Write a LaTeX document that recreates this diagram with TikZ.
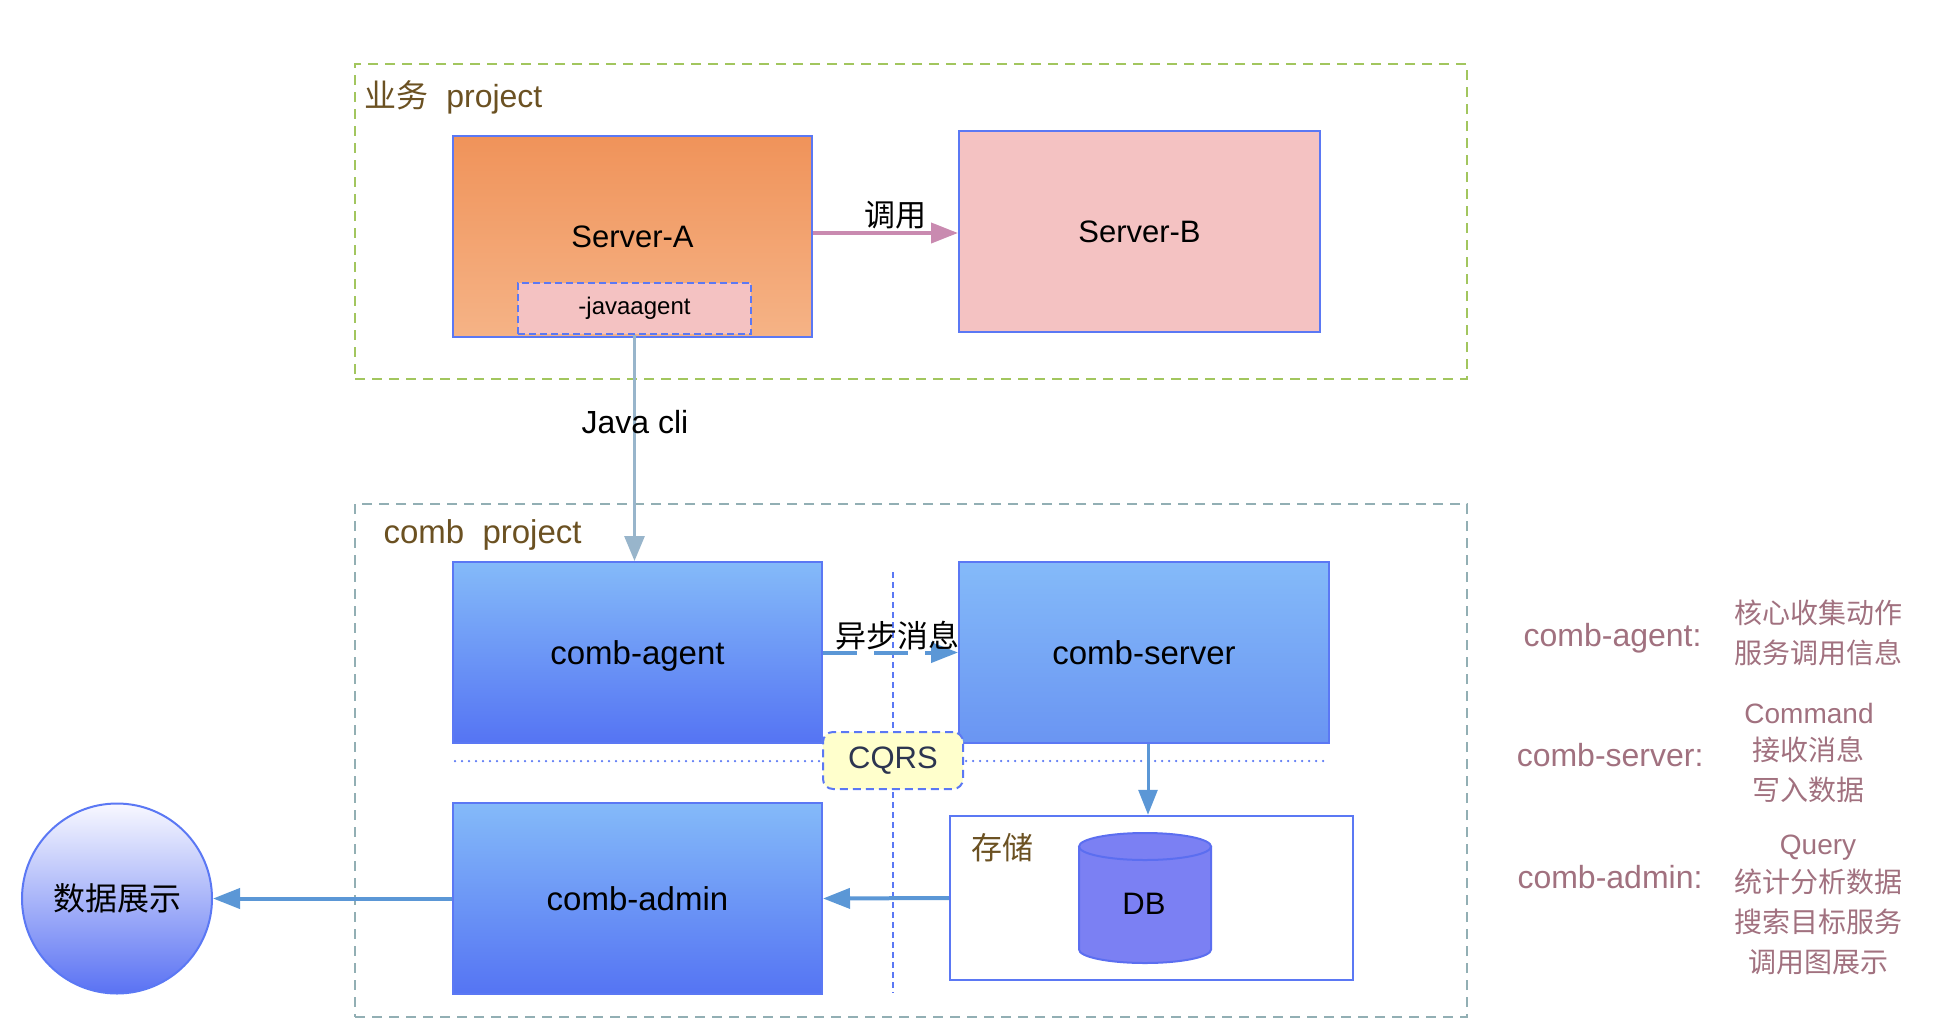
\documentclass[tikz,border=0pt]{standalone}
\usepackage{fontspec}
\setmainfont{Liberation Sans}
\newfontfamily\cjk{Noto Sans CJK SC}
\usetikzlibrary{arrows.meta,calc}
\definecolor{bordblue}{HTML}{5B78F4}
\definecolor{grpgreen}{HTML}{A2C65E}
\definecolor{grpteal}{HTML}{92AFB4}
\definecolor{arrb}{HTML}{5B97D6}
\definecolor{javac}{HTML}{98B5CB}
\definecolor{callc}{HTML}{C98AB0}
\definecolor{brownlbl}{HTML}{6B5122}
\definecolor{mauve}{HTML}{A1717F}
\definecolor{orTop}{HTML}{F0935A}
\definecolor{orBot}{HTML}{F5B386}
\definecolor{pinkfill}{HTML}{F4C2C2}
\definecolor{bTop}{HTML}{84BAF9}
\definecolor{bBot}{HTML}{5574F3}
\definecolor{bBotS}{HTML}{6A95F2}
\definecolor{cqrsfill}{HTML}{FFFFCC}
\definecolor{cqrstext}{HTML}{2C3550}
\definecolor{dbfill}{HTML}{7B80F3}
\definecolor{dbline}{HTML}{5B6EF0}
\definecolor{cTop}{HTML}{F8F8FF}
\definecolor{cBot}{HTML}{5A72F3}
\begin{document}
\begin{tikzpicture}[x=1pt,y=-1pt,
  box/.style={draw=bordblue, line width=2pt, inner sep=0pt},
  lbl/.style={font=\fontsize{31}{37}\selectfont},
  blbl/.style={font=\fontsize{33}{39}\selectfont, text depth=0pt},
  rlbl/.style={font=\fontsize{32}{38}\selectfont, text=mauve},
  rtxt/.style={font=\fontsize{28}{33}\selectfont, text=mauve},
  grp/.style={line width=2pt, dash pattern=on 10pt off 7pt, inner sep=0pt},
  tipA/.style={-{Triangle[length=27pt,width=20pt]}}
]
\useasboundingbox (0,0) rectangle (1954,1020);

% group frames
\node[grp, draw=grpgreen, minimum width=1112pt, minimum height=315pt] (bizgrp) at (911,221.5) {};
\node[grp, draw=grpteal, minimum width=1112pt, minimum height=513pt] (combgrp) at (911,760.5) {};
\node[font=\fontsize{32}{38}\selectfont, text=brownlbl, anchor=west] (bizlbl) at (361,97) {{\cjk 业务}\ \ project};
\node[font=\fontsize{33}{39}\selectfont, text=brownlbl, anchor=west] (comblbl) at (380,535) {comb\ \ project};

% business project
\node[box, top color=orTop, bottom color=orBot, minimum width=359pt, minimum height=201pt, lbl] (sa) at (632.5,236.5) {Server-A};
\node[draw=bordblue, line width=2pt, dash pattern=on 7pt off 4pt, fill=pinkfill, minimum width=233pt, minimum height=51pt, inner sep=0pt, font=\fontsize{24}{28}\selectfont] (jav) at (634.5,308.5) {-javaagent};
\node[box, fill=pinkfill, minimum width=361pt, minimum height=201pt, lbl] (sb) at (1139.5,231.5) {Server-B};
\coordinate (callA) at ($(sa.east)+(0,-3.5)$);
\draw[callc, line width=4pt, tipA] (callA) -- (callA -| sb.west);
\node[lbl] (calllbl) at (895,215) {\cjk 调用};

% CQRS guide lines
\coordinate (vtop) at (893,572);
\coordinate (vbot) at (893,993);
\draw[bordblue, line width=1.5pt, dash pattern=on 6pt off 4pt] (vtop) -- (vbot);
\coordinate (hl) at (455,761);
\coordinate (hr) at (1329,761);
\draw[bordblue, line width=2.5pt, line cap=round, dash pattern=on 0pt off 7pt] (hl) -- (hr);

% comb project
\node[box, top color=bTop, bottom color=bBot, minimum width=369pt, minimum height=181pt, blbl] (ca) at (637.5,652.5) {comb-agent};
\node[box, top color=bTop, bottom color=bBotS, minimum width=370pt, minimum height=181pt, blbl] (cs) at (1144,652.5) {comb-server};
\node[box, top color=bTop, bottom color=bBot, minimum width=369pt, minimum height=191pt, blbl] (cad) at (637.5,898.5) {comb-admin};
\node[rectangle, rounded corners=10pt, draw=bordblue, line width=2pt, dash pattern=on 8pt off 5pt, fill=cqrsfill, minimum width=140pt, minimum height=57pt, inner sep=0pt, lbl, text=cqrstext] (cqrs) at (893,760.5) {CQRS};

% storage
\node[draw=bordblue, line width=2.5pt, fill=white, minimum width=403pt, minimum height=164pt, inner sep=0pt] (st) at (1151.5,898) {};
\node[lbl, text=brownlbl] (stlbl) at (1002.5,848) {\cjk 存储};
\fill[dbfill] (1079,846.5) -- (1079,949.5) arc[start angle=180, end angle=360, x radius=66pt, y radius=13.5pt] -- (1211,846.5) arc[start angle=0, end angle=180, x radius=66pt, y radius=13.5pt] -- cycle;
\draw[dbline, line width=2pt] (1079,846.5) -- (1079,949.5) arc[start angle=180, end angle=360, x radius=66pt, y radius=13.5pt] -- (1211,846.5);
\draw[dbline, line width=2pt] (1145,846.5) ellipse [x radius=66pt, y radius=13.5pt];
\node[lbl] (db) at (1144,904) {DB};

% display circle
\node[circle, draw=bordblue, line width=2pt, top color=cTop, bottom color=cBot, minimum size=190pt, inner sep=0pt, font=\fontsize{32}{38}\selectfont] (circ) at (117,898.5) {\cjk 数据展示};

% connectors
\draw[javac, line width=3pt, -{Triangle[length=25pt,width=20pt]}] (jav.south) -- (jav.south |- ca.north);
\node[font=\fontsize{32}{38}\selectfont] (jcli) at (635,422) {Java cli};
\draw[arrb, line width=4pt, dash pattern=on 34pt off 17pt, tipA] (ca.east) -- (cs.west);
\node[lbl] (async) at (897,636) {\cjk 异步消息};
\coordinate (csb) at ($(cs.south)+(4,0)$);
\draw[arrb, line width=3pt, -{Triangle[length=25pt,width=19pt]}] (csb) -- (csb |- st.north);
\draw[arrb, line width=4pt, tipA] (st.west) -- (cad.east);
\draw[arrb, line width=4pt, tipA] (cad.west) -- (circ.east);

% legend
\node[rlbl, anchor=east] (ragent) at (1705,638) {comb-agent:};
\node[rtxt] (ra1) at (1818,613) {\cjk 核心收集动作};
\node[rtxt] (ra2) at (1818,653) {\cjk 服务调用信息};
\node[rlbl, anchor=east] (rserver) at (1707,755) {comb-server:};
\node[rtxt] (rs1) at (1809,713) {Command};
\node[rtxt] (rs2) at (1808,750) {\cjk 接收消息};
\node[rtxt] (rs3) at (1808,790) {\cjk 写入数据};
\node[rlbl, anchor=east] (radmin) at (1706,877) {comb-admin:};
\node[rtxt] (rd1) at (1818,848) {Query};
\node[rtxt] (rd2) at (1818,882) {\cjk 统计分析数据};
\node[rtxt] (rd3) at (1818,922) {\cjk 搜索目标服务};
\node[rtxt] (rd4) at (1818,962) {\cjk 调用图展示};
\end{tikzpicture}
\end{document}
